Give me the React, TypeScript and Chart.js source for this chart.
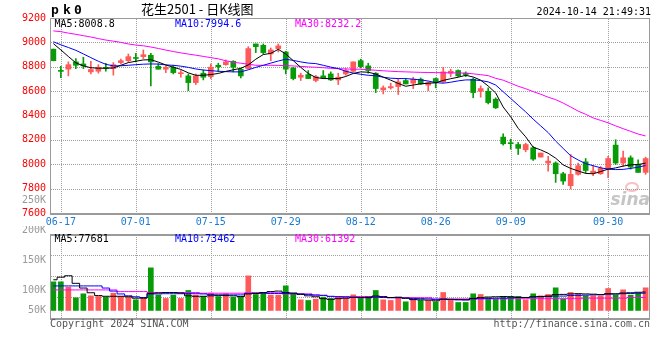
import React, { useEffect, useRef } from 'react';
import { Chart, registerables } from 'chart.js';

Chart.register(...registerables);

// ---------------- data ----------------
const DATES = [
  '06-14','06-17','06-18','06-19','06-20','06-21','06-24','06-25','06-26','06-27',
  '06-28','07-01','07-02','07-03','07-04','07-05','07-08','07-09','07-10','07-11',
  '07-12','07-15','07-16','07-17','07-18','07-19','07-22','07-23','07-24','07-25',
  '07-26','07-29','07-30','07-31','08-01','08-02','08-05','08-06','08-07','08-08',
  '08-09','08-12','08-13','08-14','08-15','08-16','08-19','08-20','08-21','08-22',
  '08-23','08-26','08-27','08-28','08-29','08-30','09-02','09-03','09-04','09-05',
  '09-06','09-09','09-10','09-11','09-12','09-13','09-18','09-19','09-20','09-23',
  '09-24','09-25','09-26','09-27','09-30','10-08','10-09','10-10','10-11','10-14',
];
const TICK_DATES = ['06-17','07-01','07-15','07-29','08-12','08-26','09-09','09-30'];
const PRICE_TICKS = [9200, 9000, 8800, 8600, 8400, 8200, 8000, 7800, 7600];
const VOL_AXIS_LABELS = ['250K', '200K', '150K', '100K', '50K'];

const OPEN = [
  8944,8770,8780,8840,8823,8758,8763,8793,8785,8834,
  8850,8876,8883,8894,8804,8780,8796,8743,8725,8670,
  8747,8719,8812,8817,8845,8780,8785,8987,8976,8905,
  8949,8921,8790,8714,8736,8687,8725,8741,8692,8741,
  8763,8850,8807,8747,8610,8627,8637,8687,8665,8698,
  8649,8703,8676,8747,8769,8747,8698,8599,8599,8534,
  8223,8177,8162,8119,8135,8059,8010,8010,7922,7824,
  7917,8020,7928,7922,7960,8157,8010,8053,7999,7933,
];
const CLOSE = [
  8850,8762,8817,8812,8807,8777,8796,8786,8817,8850,
  8883,8868,8899,8840,8780,8796,8752,8751,8670,8725,
  8714,8796,8800,8840,8796,8725,8949,8965,8916,8938,
  8971,8780,8703,8730,8703,8719,8709,8692,8714,8769,
  8840,8801,8769,8621,8627,8637,8676,8659,8698,8659,
  8670,8670,8758,8763,8725,8736,8588,8621,8506,8463,
  8168,8169,8130,8162,8042,8092,8026,7922,7862,7917,
  7988,7949,7944,7966,8047,8010,8053,7977,7933,8047,
];
const HIGH = [
  8946,8804,8840,8867,8878,8845,8817,8829,8834,8862,
  8905,8911,8938,8911,8826,8807,8812,8769,8741,8741,
  8774,8823,8829,8856,8850,8790,8965,8987,8987,8954,
  8987,8927,8796,8747,8769,8730,8769,8758,8747,8785,
  8840,8862,8829,8752,8643,8665,8703,8703,8714,8708,
  8676,8708,8796,8780,8774,8758,8708,8643,8627,8545,
  8250,8206,8179,8173,8146,8092,8064,8020,7933,8080,
  8010,8047,7988,7982,8064,8201,8108,8069,8037,8059,
];
const LOW = [
  8848,8711,8725,8785,8785,8741,8747,8763,8731,8823,
  8840,8840,8867,8643,8780,8752,8741,8714,8604,8654,
  8692,8703,8758,8812,8758,8708,8780,8916,8905,8850,
  8921,8741,8692,8687,8703,8676,8703,8687,8654,8730,
  8758,8790,8747,8588,8577,8616,8572,8659,8621,8654,
  8604,8627,8670,8719,8719,8719,8545,8550,8495,8457,
  8157,8124,8080,8102,8031,8059,7944,7851,7834,7797,
  7911,7928,7906,7917,7889,7999,7982,7960,7933,7917,
];
const MA5 = [
  8990,8938,8884,8832,8807,8792,8788,8788,8790,8812,
  8834,8845,8856,8858,8838,8815,8796,8778,8750,8730,
  8730,8736,8745,8762,8775,8787,8815,8862,8900,8910,
  8943,8905,8850,8795,8745,8712,8703,8703,8703,8720,
  8745,8758,8755,8740,8715,8690,8663,8640,8650,8660,
  8665,8668,8688,8702,8714,8730,8716,8690,8642,8585,
  8470,8390,8295,8225,8140,8118,8090,8050,7995,7966,
  7945,7925,7922,7940,7960,7970,7985,7995,7998,8009,
];
const MA10 = [
  9005,8980,8958,8935,8905,8875,8845,8820,8807,8808,
  8812,8817,8821,8823,8822,8815,8812,8805,8795,8782,
  8773,8768,8763,8760,8758,8758,8775,8795,8812,8830,
  8847,8862,8852,8840,8830,8826,8812,8797,8785,8763,
  8748,8738,8730,8726,8714,8706,8703,8703,8698,8692,
  8683,8670,8665,8673,8684,8692,8692,8687,8676,8650,
  8595,8540,8485,8430,8370,8315,8260,8190,8130,8070,
  8035,8005,7988,7971,7960,7956,7958,7966,7976,7990,
];
const MA30 = [
  9094,9088,9076,9066,9055,9044,9031,9019,9010,9000,
  8987,8978,8972,8962,8950,8937,8925,8914,8904,8895,
  8885,8875,8865,8849,8837,8829,8821,8812,8812,8812,
  8811,8809,8807,8803,8799,8796,8792,8787,8784,8782,
  8780,8780,8776,8771,8767,8763,8760,8758,8756,8754,
  8753,8752,8751,8750,8749,8748,8742,8735,8727,8705,
  8690,8665,8640,8620,8596,8575,8550,8530,8502,8470,
  8436,8410,8380,8360,8340,8315,8292,8270,8248,8232,
];
// volume in thousands
const VOLUME = [
  121.3,121.3,98.7,53.6,70.5,62.0,59.2,56.4,73.3,59.2,
  56.4,45.1,50.8,180.5,64.9,50.8,64.9,50.8,84.6,64.9,
  59.2,73.3,59.2,70.5,56.4,56.4,146.6,67.7,73.3,64.9,
  64.9,104.3,70.5,45.1,42.3,47.9,56.4,50.8,59.2,50.8,
  66.3,50.8,56.4,84.6,45.1,42.3,56.4,36.7,47.9,42.3,
  42.3,36.7,76.1,42.3,33.8,33.8,70.5,67.7,53.6,47.9,
  59.2,59.2,59.2,45.1,70.5,62.0,67.7,95.9,47.9,76.1,
  70.5,62.0,62.0,62.0,93.1,64.9,87.4,64.9,73.3,95.9,
];
const VOL_MA5 = [
  130,141,147,115,95,75,63,60,60,60,
  58,52,52,73,74,76,76,74,62,60,
  60,62,64,63,62,59,70,72,76,80,
  82,76,74,68,62,58,50,47,50,52,
  55,55,56,61,58,55,56,52,46,45,
  44,41,48,47,46,45,51,55,57,58,
  59,58,56,55,58,59,61,67,68,70,
  71,70,69,67,71,70,74,75,77,78,
];
const VOL_MA10 = [
  104,104,104,104,104,104,104,95,82,70,
  62,58,55,70,70,71,71,71,71,71,
  70,67,66,66,66,66,72,73,73,72,
  72,72,71,70,68,66,64,60,58,57,
  56,54,54,56,55,54,54,52,51,50,
  49,47,47,46,45,45,49,50,51,52,
  52,53,55,55,57,58,59,61,61,63,
  64,65,66,67,69,70,71,72,73,73,
];
const VOL_MA30 = [
  87,87,87,87,87,87,87,87,87,80,
  80,80,80,76,76,76,76,76,76,76,
  73,73,73,73,73,73,75,75,75,75,
  75,70,70,70,70,64,64,59,59,59,
  59,59,59,59,59,54,54,54,54,54,
  54,49,49,49,49,49,49,49,49,49,
  49,50,50,50,50,50,50,50,50,50,
  50,52,52,52,52,52,52,55,55,55,
];

const SYMBOL = ['p', 'k', '0'];
const TITLE = '花生2501 - 日K线图';
const TIMESTAMP = '2024-10-14 21:49:31';
const PRICE_MA_LABELS = ['MA5:8008.8', 'MA10:7994.6', 'MA30:8232.2'];
const VOL_MA_LABELS = ['MA5:77681', 'MA10:73462', 'MA30:61392'];
const COPYRIGHT = 'Copyright 2024 SINA.COM';
const URL_TEXT = 'http://finance.sina.com.cn';

// ---------------- styles ----------------
const UP = '#ff5a5a';
const DOWN = '#079c07';
const MA_COLORS = ['#000000', '#0000ff', '#ff00ff'];
const MONO = "'DejaVu Sans Mono', monospace";
const GRID = '#a0a0a0';
const FRAME = '#9a9a9a';

const isUp = (i: number) => CLOSE[i] >= OPEN[i];
const candleColor = (c: any) => (isUp(c.dataIndex) ? UP : DOWN);

function xAxis(showLabels: boolean) {
  return {
    type: 'linear' as const,
    min: -0.45,
    max: DATES.length - 0.55,
    offset: false,
    afterBuildTicks: (s: any) => {
      s.ticks = TICK_DATES.map((d) => ({ value: DATES.indexOf(d) }));
    },
    afterFit: (s: any) => {
      s.height = showLabels ? 13 : 0;
    },
    ticks: {
      display: showLabels,
      autoSkip: false,
      maxRotation: 0,
      minRotation: 0,
      padding: 3,
      color: '#1a7bd0',
      font: { family: MONO, size: 10 },
      callback: (v: any) => DATES[Math.round(v)],
    },
    grid: { display: false, drawTicks: false },
    border: { display: false },
  };
}

// dotted grid at the scales' tick positions, painted behind existing content
function drawDottedGrid(chart: any) {
  const { ctx, chartArea: a, scales } = chart;
  const L = Math.round(a.left);
  const R = Math.round(a.right);
  const T = Math.round(a.top);
  const B = Math.round(a.bottom);
  const xs: number[] = scales.x.ticks.map((t: any) => Math.round(scales.x.getPixelForValue(t.value)));
  const ys: number[] = scales.y.ticks.map((t: any) => Math.round(scales.y.getPixelForValue(t.value)));
  ctx.save();
  ctx.globalCompositeOperation = 'destination-over';
  ctx.fillStyle = GRID;
  xs.forEach((px) => {
    for (let y = T + 1; y < B; y += 2) ctx.fillRect(px, y, 1, 1);
  });
  ys.forEach((py) => {
    for (let x = L + 1; x < R; x += 2) ctx.fillRect(x, py, 1, 1);
  });
  ctx.restore();
}

function frame(ctx: CanvasRenderingContext2D, a: any, topW: number, botW: number) {
  const L = Math.round(a.left);
  const R = Math.round(a.right);
  const T = Math.round(a.top);
  const B = Math.round(a.bottom);
  ctx.save();
  ctx.fillStyle = FRAME;
  ctx.fillRect(L, T, 1, B - T + 1);
  ctx.fillRect(R, T, 1, B - T + 1);
  ctx.fillRect(L, T, R - L + 1, topW);
  ctx.fillRect(L, B, R - L + 1, botW);
  ctx.restore();
}

const mainDecor = {
  id: 'mainDecor',
  afterDraw(chart: any) {
    const { ctx, chartArea: a } = chart;
    drawDottedGrid(chart);
    frame(ctx, a, 1, 2);
    ctx.save();
    // symbol
    ctx.fillStyle = '#000';
    ctx.textBaseline = 'alphabetic';
    ctx.textAlign = 'left';
    ctx.font = `bold 13px ${MONO}`;
    const sx = [51, 63, 74];
    SYMBOL.forEach((ch, k) => ctx.fillText(ch, sx[k], 14));
    // title
    ctx.font = "13px 'Noto Sans CJK SC'";
    ctx.fillText(TITLE, 141, 14);
    // time
    ctx.font = `10px ${MONO}`;
    ctx.textAlign = 'right';
    ctx.fillText(TIMESTAMP, 651, 15);
    // MA legend row
    ctx.textAlign = 'left';
    ctx.textBaseline = 'middle';
    const mx = [54.5, 175, 295];
    PRICE_MA_LABELS.forEach((t, k) => {
      ctx.fillStyle = MA_COLORS[k];
      ctx.fillText(t, mx[k], a.top + 6);
    });
    // stray volume label
    ctx.fillStyle = '#999';
    ctx.textAlign = 'right';
    ctx.fillText(VOL_AXIS_LABELS[0], 46, a.bottom - 12.5);
    // watermark
    ctx.font = "italic bold 17px 'DejaVu Sans'";
    ctx.fillStyle = 'rgba(150,150,150,0.55)';
    ctx.textAlign = 'right';
    ctx.textBaseline = 'alphabetic';
    ctx.fillText('sina', 650, a.bottom - 8);
    ctx.strokeStyle = 'rgba(230,80,80,0.35)';
    ctx.lineWidth = 2;
    ctx.beginPath();
    ctx.ellipse(632, a.bottom - 26, 6, 4, 0, 0, Math.PI * 2);
    ctx.stroke();
    ctx.restore();
  },
};

const volDecor = {
  id: 'volDecor',
  afterDraw(chart: any) {
    const { ctx, chartArea: a } = chart;
    drawDottedGrid(chart);
    frame(ctx, a, 2, 2);
    ctx.save();
    ctx.font = `10px ${MONO}`;
    ctx.textBaseline = 'middle';
    ctx.textAlign = 'left';
    const mx = [54.5, 175, 295];
    VOL_MA_LABELS.forEach((t, k) => {
      ctx.fillStyle = MA_COLORS[k];
      ctx.fillText(t, mx[k], a.top + 5);
    });
    ctx.fillStyle = '#999';
    ctx.textAlign = 'right';
    const ly = [a.top - 3.7, a.top + 26.7, a.top + 56, a.bottom - 7.6];
    VOL_AXIS_LABELS.slice(1).forEach((t, k) => ctx.fillText(t, 46, ly[k]));
    ctx.fillStyle = '#555';
    ctx.textAlign = 'left';
    ctx.fillText(COPYRIGHT, 50, a.bottom + 6);
    ctx.textAlign = 'right';
    ctx.fillText(URL_TEXT, 650, a.bottom + 6);
    ctx.restore();
  },
};

const commonOpts = {
  animation: false as const,
  responsive: false,
  devicePixelRatio: 1,
  events: [] as any[],
  plugins: { legend: { display: false }, tooltip: { enabled: false } },
};

function lineDs(values: number[], color: string, stepped: any = false) {
  return {
    type: 'line' as const,
    data: values.map((y, i) => ({ x: i, y })),
    borderColor: color,
    borderWidth: 1,
    pointRadius: 0,
    tension: 0,
    stepped,
    order: 0,
  };
}

export default function App() {
  const mainRef = useRef<HTMLCanvasElement>(null);
  const volRef = useRef<HTMLCanvasElement>(null);

  useEffect(() => {
    const main = new Chart(mainRef.current as HTMLCanvasElement, {
      type: 'bar',
      data: {
        datasets: [
          lineDs(MA5, MA_COLORS[0]),
          lineDs(MA10, MA_COLORS[1]),
          lineDs(MA30, MA_COLORS[2]),
          {
            type: 'bar',
            data: OPEN.map((o, i) => ({ x: i, y: [o, CLOSE[i]] })),
            backgroundColor: candleColor,
            barThickness: 5,
            minBarLength: 1,
            grouped: false,
            order: 1,
          } as any,
          {
            type: 'bar',
            data: LOW.map((l, i) => ({ x: i, y: [l, HIGH[i]] })),
            backgroundColor: candleColor,
            barThickness: 1,
            grouped: false,
            order: 2,
          } as any,
        ],
      },
      options: {
        ...commonOpts,
        layout: { padding: { top: 18, right: 11, left: 0, bottom: 0 } },
        scales: {
          x: xAxis(true) as any,
          y: {
            type: 'linear',
            min: PRICE_TICKS[PRICE_TICKS.length - 1],
            max: PRICE_TICKS[0],
            afterBuildTicks: (s: any) => {
              s.ticks = PRICE_TICKS.map((v) => ({ value: v }));
            },
            afterFit: (s: any) => {
              s.width = 50;
            },
            ticks: {
              color: '#ff0000',
              padding: 4,
              font: { family: MONO, size: 10 },
              callback: (v: any) => String(v),
            },
            grid: { display: false, drawTicks: false },
            border: { display: false },
          } as any,
        },
      } as any,
      plugins: [mainDecor],
    });

    const vol = new Chart(volRef.current as HTMLCanvasElement, {
      type: 'bar',
      data: {
        datasets: [
          lineDs(VOL_MA5, MA_COLORS[0], 'middle'),
          lineDs(VOL_MA10, MA_COLORS[1], 'middle'),
          lineDs(VOL_MA30, MA_COLORS[2], 'middle'),
          {
            type: 'bar',
            data: VOLUME.map((v, i) => ({ x: i, y: v })),
            backgroundColor: candleColor,
            barThickness: 5,
            grouped: false,
            order: 1,
          } as any,
        ],
      },
      options: {
        ...commonOpts,
        layout: { padding: { top: 8, right: 11, left: 0, bottom: 42 } },
        scales: {
          x: xAxis(false) as any,
          y: {
            type: 'linear',
            min: -32,
            max: 324,
            afterBuildTicks: (s: any) => {
              const n = 4;
              s.ticks = Array.from({ length: n + 1 }, (_, k) => ({ value: s.min + ((s.max - s.min) * k) / n }));
            },
            afterFit: (s: any) => {
              s.width = 50;
            },
            ticks: { display: false },
            grid: { display: false, drawTicks: false },
            border: { display: false },
          } as any,
        },
      } as any,
      plugins: [volDecor],
    });

    return () => {
      main.destroy();
      vol.destroy();
    };
  }, []);

  return (
    <div
      style={{
        position: 'absolute',
        left: 0,
        top: 0,
        width: 660,
        height: 360,
        background: '#fff',
        overflow: 'hidden',
      }}
    >
      <canvas ref={mainRef} width={660} height={226} style={{ position: 'absolute', left: 0, top: 0 }} />
      <canvas ref={volRef} width={660} height={134} style={{ position: 'absolute', left: 0, top: 226 }} />
    </div>
  );
}
